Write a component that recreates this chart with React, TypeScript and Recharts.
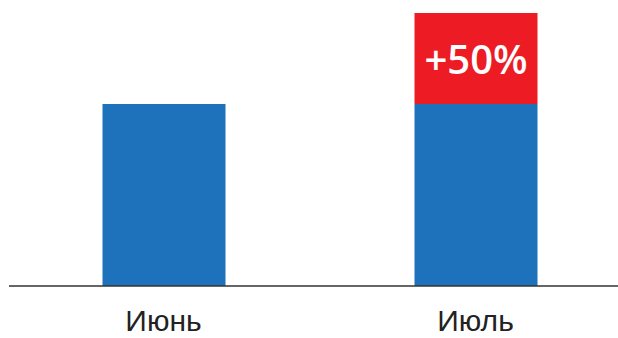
import { BarChart, Bar, XAxis, YAxis, LabelList } from 'recharts'

const months = ['Июнь', 'Июль']
const baseValues = [100, 100]
const growthValues = [0, 50]
const growthLabels = ['', '+50%']

const data = months.map((month, i) => ({
  month,
  base: baseValues[i],
  growth: growthValues[i],
  label: growthLabels[i],
}))

const MonthTick = ({ x, y, payload }: any) => (
  <text
    x={x}
    y={y + 37}
    textAnchor="middle"
    fill="#222"
    fontSize={30}
    fontFamily="'Liberation Sans', Arial, sans-serif"
  >
    {payload.value}
  </text>
)

const GrowthLabel = ({ x, y, width, height, value }: any) => {
  if (!value) return null
  return (
    <text
      x={Number(x) + Number(width) / 2}
      y={Number(y) + Number(height) / 2}
      textAnchor="middle"
      dominantBaseline="central"
      fill="#fff"
      fontSize={40}
      fontWeight={600}
      fontFamily="'Open Sans', sans-serif"
    >
      {value}
    </text>
  )
}

export default function App() {
  return (
    <div style={{ position: 'absolute', left: 0, top: 0, width: 618, height: 338, background: '#fff' }}>
      <BarChart
        width={618}
        height={338}
        data={data}
        margin={{ top: 13, right: 0, left: 9, bottom: 0 }}
      >
        <XAxis
          dataKey="month"
          axisLine={{ stroke: '#333', strokeWidth: 1.5 }}
          tickLine={false}
          tick={<MonthTick />}
          height={52}
          padding={{ left: -1.5, right: -13.5 }}
          interval={0}
        />
        <YAxis hide domain={[0, 150]} />
        <Bar dataKey="base" stackId="a" fill="#1d72bb" barSize={123} isAnimationActive={false} />
        <Bar dataKey="growth" stackId="a" fill="#ed1c24" barSize={123} isAnimationActive={false}>
          <LabelList dataKey="label" content={GrowthLabel} />
        </Bar>
      </BarChart>
    </div>
  )
}
